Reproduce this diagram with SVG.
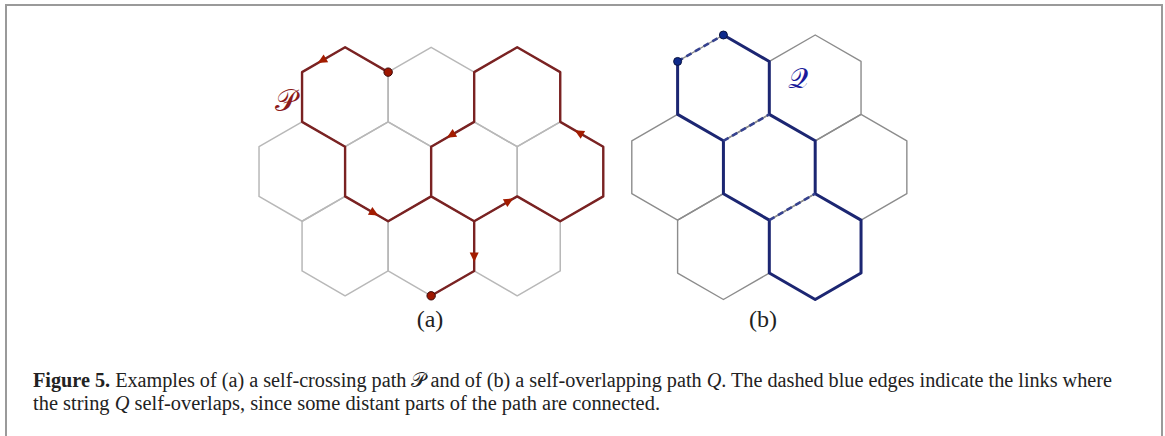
<svg xmlns="http://www.w3.org/2000/svg" xmlns:xlink="http://www.w3.org/1999/xlink" width="1165" height="436" viewBox="0 0 1165 436">
<style>
.hexa{fill:none;stroke:#b8b8b8;stroke-width:1.5;stroke-linejoin:round}
.hexb{fill:none;stroke:#8c8c8c;stroke-width:1.4;stroke-linejoin:round}
.pathP{fill:none;stroke:#7a2222;stroke-width:2.4;stroke-linejoin:round;stroke-linecap:round}
.pathQ{fill:none;stroke:#1c2672;stroke-width:3;stroke-linejoin:round;stroke-linecap:round}
.dashQ{fill:none;stroke:#36428f;stroke-width:2.6;stroke-dasharray:6 4}
.arr{fill:#a31c00}
.dotP{fill:#9e1600;stroke:#3a0a0a;stroke-width:1}
.dotQ{fill:#0e2a8c;stroke:#0a1440;stroke-width:1}
.lab{font-family:"Liberation Serif","DejaVu Serif",serif;font-size:24px;fill:#222}
.cap{font-family:"Liberation Serif","DejaVu Serif",serif;font-size:20px;fill:#222}
.script{font-family:"DejaVu Sans","Noto Sans",serif}
</style>
<defs>
<polygon id="hA" points="0,-49.7 43.04,-24.85 43.04,24.85 0,49.7 -43.04,24.85 -43.04,-24.85"/>
<polygon id="hB" points="0,-52.9 45.81,-26.45 45.81,26.45 0,52.9 -45.81,26.45 -45.81,-26.45"/>
<path id="tri" d="M5,0 L-4.5,-4.5 L-4.5,4.5 Z"/>
</defs>
<rect x="6" y="5" width="1156" height="470" fill="none" stroke="#9a9a9a" stroke-width="2"/>

<g id="panel-a-hexes" class="hexa">
<use id="a-r1c1" href="#hA" xlink:href="#hA" x="345.1" y="97"/>
<use id="a-r1c2" href="#hA" xlink:href="#hA" x="431.15" y="97"/>
<use id="a-r1c3" href="#hA" xlink:href="#hA" x="517.2" y="97"/>
<use id="a-r2c1" href="#hA" xlink:href="#hA" x="302.06" y="171.55"/>
<use id="a-r2c2" href="#hA" xlink:href="#hA" x="388.12" y="171.55"/>
<use id="a-r2c3" href="#hA" xlink:href="#hA" x="474.19" y="171.55"/>
<use id="a-r2c4" href="#hA" xlink:href="#hA" x="560.24" y="171.55"/>
<use id="a-r3c1" href="#hA" xlink:href="#hA" x="345.1" y="246.1"/>
<use id="a-r3c2" href="#hA" xlink:href="#hA" x="431.15" y="246.1"/>
<use id="a-r3c3" href="#hA" xlink:href="#hA" x="517.2" y="246.1"/>
</g>

<g id="panel-b-hexes" class="hexb">
<use id="b-r1c1" href="#hB" xlink:href="#hB" x="723.42" y="87.9"/>
<use id="b-r1c2" href="#hB" xlink:href="#hB" x="815.23" y="87.9"/>
<use id="b-r2c1" href="#hB" xlink:href="#hB" x="677.61" y="167.25"/>
<use id="b-r2c2" href="#hB" xlink:href="#hB" x="769.32" y="167.25"/>
<use id="b-r2c3" href="#hB" xlink:href="#hB" x="861.04" y="167.25"/>
<use id="b-r3c1" href="#hB" xlink:href="#hB" x="723.42" y="246.6"/>
<use id="b-r3c2" href="#hB" xlink:href="#hB" x="815.23" y="246.6"/>
</g>

<g id="connectors">
<path id="path-P" class="pathP" d="M388.14,72.15 L345.1,47.3 L302.06,72.15 L302.06,121.85 L345.1,146.7 L345.1,196.4 L388.14,221.25 L431.15,196.4 L474.19,221.25 L517.2,196.4 L560.24,221.25 L603.28,196.4 L603.28,146.7 L560.24,121.85 L560.24,72.15 L517.2,47.3 L474.19,72.15 L474.19,121.85 L431.15,146.7 L431.15,196.4 L474.19,221.25 L474.19,270.95 L431.15,295.8"/>
<g id="arrows-P" class="arr">
<use href="#tri" xlink:href="#tri" transform="translate(322,60.6) rotate(150)"/>
<use href="#tri" xlink:href="#tri" transform="translate(374,213.1) rotate(30)"/>
<use href="#tri" xlink:href="#tri" transform="translate(451,135.2) rotate(150)"/>
<use href="#tri" xlink:href="#tri" transform="translate(509,200.9) rotate(-30)"/>
<use href="#tri" xlink:href="#tri" transform="translate(579,132.7) rotate(-150)"/>
<use href="#tri" xlink:href="#tri" transform="translate(474.19,257) rotate(90)"/>
</g>
<path id="path-Q" class="pathQ" d="M723.42,35 L769.3,61.45 L769.3,114.35 L815.2,140.8 L815.2,193.7 L861.04,220.15 L861.04,273.05 L815.2,299.5 L769.3,273.05 L769.3,220.15 L723.42,193.7 L723.42,140.8 L677.61,114.35 L677.61,61.45"/>
<g id="overlaps-Q" class="dashQ">
<line x1="677.61" y1="61.45" x2="723.42" y2="35"/>
<line x1="723.42" y1="140.8" x2="769.3" y2="114.35"/>
<line x1="769.3" y1="220.15" x2="815.2" y2="193.7"/>
</g>
</g>

<g id="endpoints">
<circle class="dotP" cx="388.14" cy="72.15" r="4.2"/>
<circle class="dotP" cx="431.15" cy="295.8" r="4.2"/>
<circle class="dotQ" cx="677.61" cy="61.45" r="4"/>
<circle class="dotQ" cx="723.42" cy="35" r="4"/>
</g>

<g id="labels">
<text x="286" y="111" text-anchor="middle" class="script" font-size="30" fill="#8b1a1a">𝒫</text>
<text x="798" y="88" text-anchor="middle" class="script" font-size="28" fill="#1a1a9a">𝒬</text>
<text x="430" y="327" text-anchor="middle" class="lab">(a)</text>
<text x="763" y="327" text-anchor="middle" class="lab">(b)</text>
</g>

<g id="caption" class="cap">
<text x="33" y="387" textLength="1079" lengthAdjust="spacingAndGlyphs"><tspan font-weight="bold">Figure 5.</tspan> Examples of (a) a self-crossing path <tspan class="script">𝒫</tspan> and of (b) a self-overlapping path <tspan font-style="italic">Q</tspan>. The dashed blue edges indicate the links where</text>
<text x="33" y="410" textLength="627" lengthAdjust="spacingAndGlyphs">the string <tspan font-style="italic">Q</tspan> self-overlaps, since some distant parts of the path are connected.</text>
</g>
</svg>
